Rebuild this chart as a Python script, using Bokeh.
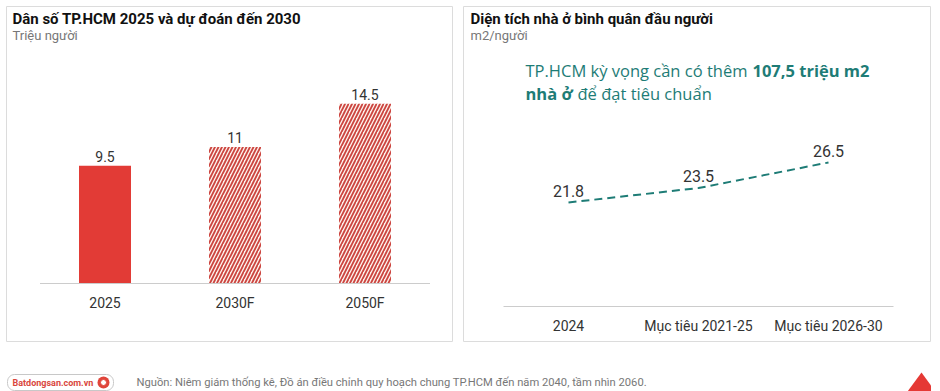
import numpy as np
from bokeh.plotting import figure
from bokeh.layouts import row, column
from bokeh.models import Range1d, Spacer
from bokeh.core.properties import value
from bokeh.embed import file_html
from bokeh.resources import INLINE

# ---------------- data ----------------
pop_categories = ["2025", "2030F", "2050F"]
pop_values = [9.5, 11, 14.5]
pop_labels = ["9.5", "11", "14.5"]
pop_forecast = [False, True, True]

area_categories = ["2024", "Mục tiêu 2021-25", "Mục tiêu 2026-30"]
area_values = [21.8, 23.5, 26.5]
area_labels = ["21.8", "23.5", "26.5"]

left_title = "Dân số TP.HCM 2025 và dự đoán đến 2030"
left_unit = "Triệu người"
right_title = "Diện tích nhà ở bình quân đầu người"
right_unit = "m2/người"
callout_1a = "TP.HCM kỳ vọng cần có thêm"
callout_1b = "107,5 triệu m2"
callout_2a = "nhà ở"
callout_2b = "để đạt tiêu chuẩn"
source_text = "Nguồn: Niêm giám thống kê, Đồ án điều chỉnh quy hoạch chung TP.HCM đến năm 2040, tầm nhìn 2060."
brand_text = "Batdongsan.com.vn"

FONT = "Roboto"
TEAL = "#1e7c76"
CALLOUT_SIZE = "16.5px"


def make_panel(w, h, x0, kx, y0, ky):
    p = figure(width=w, height=h, output_backend="svg", toolbar_location=None,
               x_range=Range1d(x0, x0 + w / kx), y_range=Range1d(y0, y0 + h / ky),
               x_axis_location=None, y_axis_location=None, min_border=0,
               title=None)
    p.grid.visible = False
    p.outline_line_color = "#dcdcdc"
    p.outline_line_width = 1
    p.background_fill_color = "white"
    p.border_fill_color = "white"
    px2x = lambda px: x0 + px / kx
    py2y = lambda py: y0 + (h - py) / ky
    return p, px2x, py2y


# ---------------- left panel ----------------
LW, LH = 447, 336
left, lx, ly = make_panel(LW, LH, -98.5 / 130.0, 130.0, -59 / 12.4, 12.4)
xs = np.arange(len(pop_categories))
vals = np.array(pop_values, dtype=float)
solid = [i for i, f in enumerate(pop_forecast) if not f]
hatch = [i for i, f in enumerate(pop_forecast) if f]

left.vbar(x=xs[solid], top=vals[solid], bottom=0, width=0.4,
          fill_color="#e23b36", line_color=None)
left.vbar(x=xs[hatch], top=vals[hatch], bottom=0, width=0.4,
          fill_color="#fdf3ee", line_color=None,
          hatch_pattern="/", hatch_color="#cc4540", hatch_weight=1.8, hatch_scale=7)
left.segment(x0=[-0.5], y0=[0], x1=[len(xs) - 0.5], y1=[0], line_color="#cccccc", line_width=1)
left.text(x=xs, y=vals, text=pop_labels, text_align="center", text_baseline="bottom",
          y_offset=-4, text_font=value(FONT), text_font_size="14px", text_color="#333333")
left.text(x=xs, y=[0] * len(xs), text=pop_categories, text_align="center", text_baseline="middle",
          y_offset=19, text_font=value(FONT), text_font_size="14px", text_color="#333333")
left.text(x=[lx(6)], y=[ly(12)], text=[left_title], text_align="left", text_baseline="middle",
          text_font=value(FONT), text_font_style="bold", text_font_size="15px", text_color="#111111")
left.text(x=[lx(6)], y=[ly(29)], text=[left_unit], text_align="left", text_baseline="middle",
          text_font=value(FONT), text_font_size="13px", text_color="#777777")

# ---------------- right panel ----------------
RW, RH = 468, 336
R_KY = 40 / 4.7
right, rx, ry = make_panel(RW, RH, -105 / 130.0, 130.0, 5.35, R_KY)
xr = np.arange(len(area_categories))
right.line(x=xr, y=area_values, line_color=TEAL, line_width=2, line_dash="8 5")
right.segment(x0=[-0.5], y0=[ry(300)], x1=[len(xr) - 0.5], y1=[ry(300)], line_color="#cccccc", line_width=1)
right.text(x=xr, y=area_values, text=area_labels, text_align="center", text_baseline="bottom",
           y_offset=-6, text_font=value(FONT), text_font_size="16px", text_color="#333333")
right.text(x=xr, y=[ry(300)] * len(xr), text=area_categories, text_align="center", text_baseline="middle",
           y_offset=19, text_font=value(FONT), text_font_size="14px", text_color="#333333")
right.text(x=[rx(7)], y=[ry(12)], text=[right_title], text_align="left", text_baseline="middle",
           text_font=value(FONT), text_font_style="bold", text_font_size="15px", text_color="#111111")
right.text(x=[rx(7)], y=[ry(29)], text=[right_unit], text_align="left", text_baseline="middle",
           text_font=value(FONT), text_font_size="13px", text_color="#777777")
# callout
right.text(x=[rx(62)], y=[ry(64)], text=[callout_1a], text_align="left", text_baseline="middle",
           text_font=value("Open Sans"), text_font_size=CALLOUT_SIZE, text_color=TEAL)
right.text(x=[rx(289)], y=[ry(64)], text=[callout_1b], text_align="left", text_baseline="middle",
           text_font=value("Open Sans"), text_font_style="bold", text_font_size=CALLOUT_SIZE, text_color=TEAL)
right.text(x=[rx(62)], y=[ry(87)], text=[callout_2a], text_align="left", text_baseline="middle",
           text_font=value("Open Sans"), text_font_style="bold", text_font_size=CALLOUT_SIZE, text_color=TEAL)
right.text(x=[rx(114)], y=[ry(87)], text=[callout_2b], text_align="left", text_baseline="middle",
           text_font=value("Open Sans"), text_font_size=CALLOUT_SIZE, text_color=TEAL)

# ---------------- footer ----------------
FW, FH = 925, 49
foot = figure(width=FW, height=FH, output_backend="svg", toolbar_location=None,
              x_range=Range1d(0, FW), y_range=Range1d(0, FH),
              x_axis_location=None, y_axis_location=None, min_border=0, title=None)
foot.grid.visible = False
foot.outline_line_color = None
try:
    foot.quad(left=[1], right=[107], bottom=[1], top=[17], fill_color="white",
              line_color="#c8c8c8", line_width=1, border_radius=7)
except Exception:
    foot.quad(left=[1], right=[107], bottom=[1], top=[17], fill_color="white",
              line_color="#c8c8c8", line_width=1)
foot.text(x=[6], y=[9], text=[brand_text], text_align="left", text_baseline="middle",
          text_font=value(FONT), text_font_style="bold", text_font_size="9px", text_color="#d9473d")
foot.scatter(x=[97], y=[9], size=12, marker="circle", fill_color="#e0453a", line_color=None)
foot.scatter(x=[97], y=[9], size=6, marker="circle", fill_color="white", line_color="#e0453a", line_width=1)
foot.text(x=[130], y=[9], text=[source_text], text_align="left", text_baseline="middle",
          text_font=value(FONT), text_font_size="11.2px", text_color="#777777")
foot.patch(x=[901, 929, 915], y=[0, 0, 19], fill_color="#e53935", line_color=None)

layout = column(Spacer(height=6),
                row(Spacer(width=6), left, Spacer(width=10), right),
                row(Spacer(width=6), foot))
open("out.html", "w").write(file_html(layout, INLINE))
